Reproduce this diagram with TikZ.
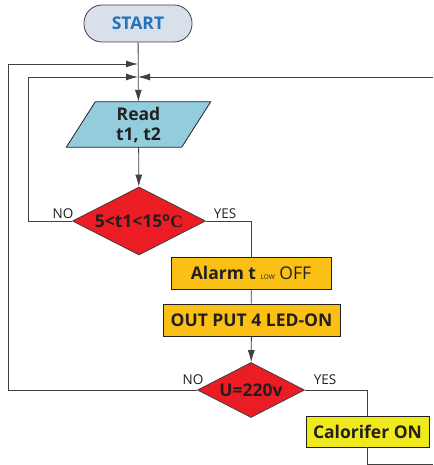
\documentclass[tikz,border=0pt]{standalone}
\usepackage{fontspec}
\setmainfont{Open Sans}
\newfontfamily\degfont{Liberation Serif}
\usetikzlibrary{shapes.geometric,arrows.meta,backgrounds}

\definecolor{inkdark}{HTML}{231F20}
\definecolor{linegray}{HTML}{404040}
\definecolor{startfill}{HTML}{D7E0EB}
\definecolor{startblue}{HTML}{2372BA}
\definecolor{readfill}{HTML}{93CDDD}
\definecolor{decred}{HTML}{EC1C24}
\definecolor{amber}{HTML}{FBC015}
\definecolor{lemon}{HTML}{F0E91E}

\tikzset{
  lbl/.style={font=\fontsize{17.5}{19}\selectfont\bfseries, text=inkdark},
  startbox/.style={lbl, draw=linegray, line width=0.8pt, fill=startfill,
    rounded corners=18pt, minimum width=108pt, minimum height=37pt,
    inner sep=0pt, text=startblue},
  readbox/.style={lbl, minimum width=115pt, minimum height=45pt, inner sep=0pt,
    align=center, font=\fontsize{17.5}{20}\selectfont\bfseries},
  decision/.style={lbl, shape=diamond, draw=linegray, line width=0.8pt,
    fill=decred, inner sep=0pt},
  procbox/.style={lbl, draw=inkdark, line width=0.8pt, fill=amber,
    inner sep=0pt, minimum height=32pt},
  yesno/.style={font=\fontsize{13.5}{15}\selectfont, text=inkdark, inner sep=0pt},
  flow/.style={draw=linegray, line width=0.8pt},
  arr/.style={flow, -{Latex[length=12pt,width=7pt]}},
}
% text of fixed-size decisions: zero width, so the outline keeps its size
\newcommand{\dectext}[1]{\makebox[0pt]{#1}}

\begin{document}
\begin{tikzpicture}[x=1pt,y=-1pt]
  \useasboundingbox (0,0) rectangle (433,465);

  % blocks
  \node[startbox] (start) at (138,23.5) {START};
  \node[readbox] (read) at (138.5,124.5) {Read\\t1, t2};
  \begin{scope}[on background layer]
    \draw[fill=readfill, draw=inkdark, line width=0.8pt]
      ([xshift=14.5pt]read.north west) -- ([xshift=14.5pt]read.north east)
      -- ([xshift=-14.5pt]read.south east) -- ([xshift=-14.5pt]read.south west)
      -- cycle;
  \end{scope}
  \node[decision, shape aspect=1.95, minimum width=133pt, minimum height=68pt]
    (d1) at (139,221)
    {\dectext{5<t1<15\textsuperscript{o}{\degfont C}}};
  \node[procbox, minimum width=160pt] (alarm) at (251,273)
    {Alarm t {\fontsize{6.5}{7}\selectfont\mdseries LOW} {\mdseries OFF}};
  \node[procbox, minimum width=177pt] (out) at (251.5,320)
    {OUT PUT 4 LED-ON};
  \node[decision, shape aspect=1.95, minimum width=107pt, minimum height=55pt]
    (d2) at (251,390) {\dectext{U=220v}};
  \node[procbox, fill=lemon, minimum width=123pt, minimum height=31pt] (cal)
    at (367.5,431.5) {Calorifer ON};

  % junction points on the main line and free ends at the right edge
  \coordinate (j1) at (138,64);
  \coordinate (j2) at (138,77);
  \coordinate (rt) at (433,77);
  \coordinate (rb) at (433,464);

  % connectors
  \draw[arr] (start) -- (read);
  \draw[arr] (read) -- (d1);
  \draw[arr] (d1.west) -- ++(-44,0) |- (j2);
  \draw[flow] (d1.east) -| (alarm.north);
  \draw[flow] (alarm) -- (out);
  \draw[arr] (out) -- (d2);
  \draw[arr] (d2.west) -- ++(-188.5,0) |- (j1);
  \draw[flow] (d2.east) -| (cal.north);
  \draw[flow] (cal.south) |- (rb);
  \draw[arr] (rt) -- (j2);

  % branch labels
  \node[yesno] (no1) at (63,213.5) {NO};
  \node[yesno] (yes1) at (225,213.5) {YES};
  \node[yesno] (no2) at (193,380) {NO};
  \node[yesno] (yes2) at (325,380) {YES};
\end{tikzpicture}
\end{document}
